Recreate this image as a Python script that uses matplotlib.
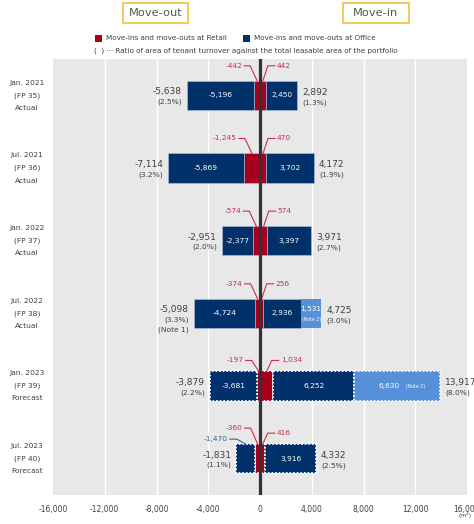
import matplotlib
matplotlib.use("Agg")
import matplotlib.pyplot as plt
from matplotlib.patches import Rectangle

periods = ["Jan. 2021", "Jul. 2021", "Jan. 2022", "Jul. 2022", "Jan. 2023", "Jul. 2023"]
fps = ["(FP 35)", "(FP 36)", "(FP 37)", "(FP 38)", "(FP 39)", "(FP 40)"]
status = ["Actual", "Actual", "Actual", "Actual", "Forecast", "Forecast"]
office_out = [-5196, -5869, -2377, -4724, -3681, -1470]
retail_out = [-442, -1245, -574, -374, -197, -360]
retail_in = [442, 470, 574, 256, 1034, 416]
office_in = [2450, 3702, 3397, 2936, 6252, 3916]
note2_in = [0, 0, 0, 1531, 6630, 0]
total_out = [-5638, -7114, -2951, -5098, -3879, -1831]
total_in = [2892, 4172, 3971, 4725, 13917, 4332]
out_ratio = ["(2.5%)", "(3.2%)", "(2.0%)", "(3.3%)", "(2.2%)", "(1.1%)"]
in_ratio = ["(1.3%)", "(1.9%)", "(2.7%)", "(3.0%)", "(8.0%)", "(2.5%)"]
xticks = [-16000, -12000, -8000, -4000, 0, 4000, 8000, 12000, 16000]

NAVY = "#00316A"
RED = "#A6001E"
LBLUE = "#5690D8"
REDTXT = "#C8304A"
GRAYTXT = "#404040"
BG = "#E8E8E8"

W, H = 474, 524
fig = plt.figure(figsize=(W / 100, H / 100), dpi=100)
ax_l, ax_r, ax_t, ax_b = 53, 467, 59, 495
ax = fig.add_axes([ax_l / W, 1 - ax_b / H, (ax_r - ax_l) / W, (ax_b - ax_t) / H])
ax.set_facecolor(BG)
ax.set_xlim(-16000, 16000)
ax.set_ylim(5.5, -0.5)
for s in ax.spines.values():
    s.set_visible(False)
ax.set_xticks(xticks)
ax.set_xticklabels([f"{v:,}" for v in xticks], fontsize=5.5, color=GRAYTXT)
ax.tick_params(axis="x", length=0, pad=7)
ax.set_yticks([])
for v in xticks[1:-1]:
    ax.axvline(v, color="white", lw=1.0, zorder=0.5)

PX = 32000 / (ax_r - ax_l)   # data units per px (x)
PY = 6 / (ax_b - ax_t)       # data units per px (y)
bh = 0.4

for i in range(6):
    fc = i >= 4
    if fc:
        ekw = dict(edgecolor="white", linewidth=1.3, linestyle=(0, (1, 1)))
    else:
        ekw = dict(edgecolor="#B8C4D8", linewidth=0.4)
    ro, oo = retail_out[i], office_out[i]
    ri, oi, n2 = retail_in[i], office_in[i], note2_in[i]
    ax.barh(i, ro, height=bh, color=RED, zorder=2, **ekw)
    ax.barh(i, oo, left=ro, height=bh, color=NAVY, zorder=2, **ekw)
    ax.barh(i, ri, height=bh, color=RED, zorder=2, **ekw)
    ax.barh(i, oi, left=ri, height=bh, color=NAVY, zorder=2, **ekw)
    if n2:
        ax.barh(i, n2, left=ri + oi, height=bh,
                color=LBLUE, zorder=2, **(ekw if fc else dict(edgecolor="none")))

    # inside labels
    if i != 5:
        ax.text(ro + oo / 2, i, f"{oo:,}", ha="center", va="center",
                fontsize=5.4, color="white", zorder=4)
    ax.text(ri + oi / 2, i, f"{oi:,}", ha="center", va="center",
            fontsize=5.4, color="white", zorder=4)
    if n2:
        cx = ri + oi + n2 / 2
        if i == 3:
            ax.text(cx, i - 4 * PY, f"{n2:,}", ha="center", va="center",
                    fontsize=5.4, color="white", zorder=4)
            ax.text(cx, i + 6 * PY, "(Note 2)", ha="center", va="center",
                    fontsize=3.3, color="white", zorder=4)
        else:
            ax.text(cx - 8 * PX, i, f"{n2:,}", ha="center", va="center",
                    fontsize=5.4, color="white", zorder=4)
            ax.text(cx + 9 * PX, i + 0.5 * PY, "(Note 2)", ha="left", va="center",
                    fontsize=3.3, color="white", zorder=4)

    # totals
    lx = total_out[i] - 5 * PX
    rx = ri + oi + n2 + 5 * PX
    ax.text(lx, i - 3.5 * PY, f"{total_out[i]:,}", ha="right", va="center",
            fontsize=6.5, color=GRAYTXT)
    ax.text(lx, i + 6.5 * PY, out_ratio[i], ha="right", va="center",
            fontsize=5.4, color=GRAYTXT)
    if i == 3:
        ax.text(lx, i + 16 * PY, "(Note 1)", ha="right", va="center",
                fontsize=5.4, color=GRAYTXT)
    ax.text(rx, i - 3 * PY, f"{total_in[i]:,}", ha="left", va="center",
            fontsize=6.5, color=GRAYTXT, clip_on=False)
    ax.text(rx, i + 7 * PY, in_ratio[i], ha="left", va="center",
            fontsize=5.4, color=GRAYTXT, clip_on=False)

    # leader labels for retail
    top = i - bh / 2
    offL = 15 if i < 4 else 11
    offR = offL
    if i == 5:
        offL, offR = 16, 11
    xm = ro / 2
    yl = top - offL * PY
    ax.plot([xm, xm - 7 * PX, xm - 13 * PX], [top, yl, yl], color=REDTXT, lw=0.8, zorder=3)
    ax.text(xm - 15 * PX, yl, f"{ro:,}", ha="right", va="center", fontsize=5.4, color=REDTXT)
    xm = ri / 2
    yr = top - offR * PY
    ax.plot([xm, xm + 5 * PX, xm + 12 * PX], [top, yr, yr], color=REDTXT, lw=0.8, zorder=3)
    ax.text(xm + 14 * PX, yr, f"{ri:,}", ha="left", va="center", fontsize=5.4, color=REDTXT)
    if i == 5:
        xm = ro + oo / 2
        yb = top - 5 * PY
        ax.plot([xm, xm - 9 * PX, xm - 16 * PX], [top, yb, yb], color="#3A5F96", lw=0.8, zorder=3)
        ax.text(xm - 18 * PX, yb, f"{oo:,}", ha="right", va="center", fontsize=5.4, color="#3A5F96")

ax.axvline(0, color="#333333", lw=2.3, zorder=5)

# y category labels
for i in range(6):
    for k, t in enumerate([periods[i], fps[i], status[i]]):
        ax.text(-0.063, i + (k - 1) * 12.5 * PY, t, transform=ax.get_yaxis_transform(),
                ha="center", va="center", fontsize=5.4, color=GRAYTXT)

fig.text(465 / W, 1 - 515 / H, "(m²)", ha="center", va="center", fontsize=4.3, color=GRAYTXT)

# header boxes
for (x0, x1, txt) in [(123, 188, "Move-out"), (343, 409, "Move-in")]:
    fig.patches.append(Rectangle((x0 / W, 1 - 23 / H), (x1 - x0) / W, 20 / H,
                                 transform=fig.transFigure, facecolor="white",
                                 edgecolor="#F3C13A", linewidth=1.2))
    fig.text((x0 + x1) / 2 / W, 1 - 13.5 / H, txt, ha="center", va="center",
             fontsize=8.2, color="#555555")

# legend
for (x, c, t) in [(95, RED, "Move-ins and move-outs at Retail"),
                  (243, NAVY, "Move-ins and move-outs at Office")]:
    fig.patches.append(Rectangle((x / W, 1 - 42 / H), 7 / W, 7 / H,
                                 transform=fig.transFigure, facecolor=c, edgecolor="none"))
    fig.text((x + 11) / W, 1 - 38.5 / H, t, ha="left", va="center", fontsize=5.2, color=GRAYTXT)
fig.text(94 / W, 1 - 51 / H,
         "(  ) ··· Ratio of area of tenant turnover against the total leasable area of the portfolio",
         ha="left", va="center", fontsize=5.2, color=GRAYTXT)

fig.savefig("out.png", dpi=100)
